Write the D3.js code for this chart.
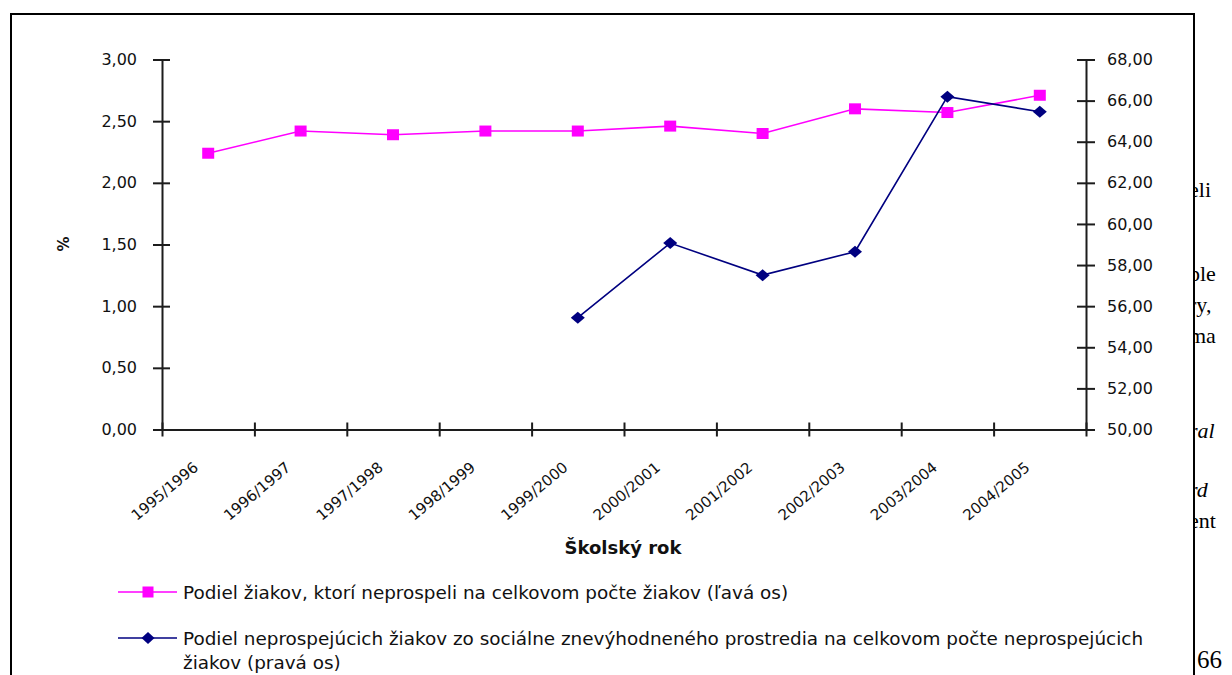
<!DOCTYPE html>
<html>
<head>
<meta charset="utf-8">
<script src="https://cdn.jsdelivr.net/npm/d3@7"></script>
<style>
  html, body { margin: 0; padding: 0; background: #fff; }
  svg { display: block; }
</style>
</head>
<body>
<svg id="chart" width="1232" height="675"></svg>
<script>
// School years on the category axis
const schoolYears = ["1995/1996", "1996/1997", "1997/1998", "1998/1999", "1999/2000",
                     "2000/2001", "2001/2002", "2002/2003", "2003/2004", "2004/2005"];
// Share of failing pupils among all pupils (%), left axis
const failedShare = [2.24, 2.42, 2.39, 2.42, 2.42, 2.46, 2.40, 2.60, 2.57, 2.71];
// Share of socially disadvantaged pupils among failing pupils (%), right axis
const disadvantagedShare = [null, null, null, null, 55.44, 59.07, 57.51, 58.65, 66.19, 65.46];
// Axis ticks
const leftTicks = [0, 0.5, 1, 1.5, 2, 2.5, 3];
const rightTicks = [50, 52, 54, 56, 58, 60, 62, 64, 66, 68];
// Legend entries
const seriesNames = [
  "Podiel žiakov, ktorí neprospeli na celkovom počte žiakov (ľavá os)",
  "Podiel neprospejúcich žiakov zo sociálne znevýhodneného prostredia na celkovom počte neprospejúcich",
  "žiakov (pravá os)"
];
const xTitle = "Školský rok";
const yTitle = "%";
// Fragments of the surrounding page text that peek out beside the chart frame
const pageFragments = [
  { t: "eli", y: 197, it: false }, { t: "ple", y: 281, it: false },
  { t: "ry,", y: 312, it: false }, { t: "ma", y: 343, it: false },
  { t: "ral", y: 438, it: true }, { t: "rd", y: 497, it: true },
  { t: "ent", y: 528, it: false }
];
const pageNumber = "66";

const svg = d3.select("#chart");
const sk = d3.formatLocale({ decimal: ",", thousands: " ", grouping: [3], currency: ["", ""] });
const fmt = sk.format(".2f");

const PINK = "#ff00ff", NAVY = "#000080", AXIS = "#1c1c1c";
const plot = { left: 162, right: 1086, top: 59.5, bottom: 429.5 };

// Page text behind the chart frame
const page = svg.append("g").attr("font-family", "'Liberation Serif', 'Times New Roman', serif")
  .attr("font-size", 22).attr("fill", "#000");
page.selectAll("text").data(pageFragments).join("text")
  .attr("x", 1189).attr("y", d => d.y)
  .attr("font-style", d => d.it ? "italic" : "normal")
  .text(d => d.t);

// Chart area with frame
svg.append("rect").attr("x", 11).attr("y", 14).attr("width", 1183).attr("height", 700)
  .attr("fill", "#fff").attr("stroke", "#000").attr("stroke-width", 2);

// Page number to the right of the frame
svg.append("text").attr("x", 1197).attr("y", 668)
  .attr("font-family", "'Liberation Serif', 'Times New Roman', serif")
  .attr("font-size", 25).attr("fill", "#000").text(pageNumber);

// Scales
const x = d3.scaleBand().domain(schoolYears).range([plot.left, plot.right]);
const xEdge = d3.scaleLinear().domain([0, schoolYears.length]).range([plot.left, plot.right]);
const yL = d3.scaleLinear().domain([0, 3]).range([plot.bottom, plot.top]);
const yR = d3.scaleLinear().domain([50, 68]).range([plot.bottom, plot.top]);
const cx = d => x(d) + x.bandwidth() / 2;

const textFont = "'DejaVu Sans', Verdana, sans-serif";

// Left axis
const gL = svg.append("g").attr("transform", `translate(${plot.left},0)`)
  .call(d3.axisLeft(yL).tickValues(leftTicks).tickFormat(fmt).tickSize(0).tickPadding(25));
gL.select(".domain").attr("stroke", AXIS).attr("stroke-width", 2);
gL.selectAll(".tick line").attr("x1", -9).attr("x2", 8).attr("stroke", AXIS).attr("stroke-width", 2);
gL.selectAll(".tick text").attr("font-family", textFont).attr("font-size", 16).attr("fill", "#111");

// Right axis
const gR = svg.append("g").attr("transform", `translate(${plot.right},0)`)
  .call(d3.axisRight(yR).tickValues(rightTicks).tickFormat(fmt).tickSize(0).tickPadding(21));
gR.select(".domain").attr("stroke", AXIS).attr("stroke-width", 2);
gR.selectAll(".tick line").attr("x1", -9).attr("x2", 9).attr("stroke", AXIS).attr("stroke-width", 2);
gR.selectAll(".tick text").attr("font-family", textFont).attr("font-size", 16).attr("fill", "#111");

// Category axis: ticks between categories
const gX = svg.append("g").attr("transform", `translate(0,${plot.bottom})`)
  .call(d3.axisBottom(xEdge).tickValues(d3.range(schoolYears.length + 1)).tickFormat("").tickSize(0));
gX.select(".domain").attr("stroke", AXIS).attr("stroke-width", 2);
gX.selectAll(".tick line").attr("y1", -7).attr("y2", 7).attr("stroke", AXIS).attr("stroke-width", 2);

// Rotated category labels
svg.append("g").selectAll("text").data(schoolYears).join("text")
  .attr("transform", d => `translate(${cx(d) - 9},469) rotate(-40)`)
  .attr("text-anchor", "end")
  .attr("font-family", textFont).attr("font-size", 15).attr("fill", "#111")
  .text(d => d);

// Axis titles
svg.append("text").attr("x", 623).attr("y", 554).attr("text-anchor", "middle")
  .attr("font-family", textFont).attr("font-weight", "bold").attr("font-size", 18).attr("fill", "#111")
  .text(xTitle);
svg.append("text").attr("transform", "translate(69,244) rotate(-90)").attr("text-anchor", "middle")
  .attr("font-family", textFont).attr("font-weight", "bold").attr("font-size", 15).attr("fill", "#111")
  .text(yTitle);

// Series 1: pink line with square markers
const pinkData = schoolYears.map((s, i) => ({ s, v: failedShare[i] }));
svg.append("path").datum(pinkData)
  .attr("fill", "none").attr("stroke", PINK).attr("stroke-width", 1.6)
  .attr("d", d3.line().x(d => cx(d.s)).y(d => yL(d.v)));
svg.append("g").selectAll("rect").data(pinkData).join("rect")
  .attr("x", d => cx(d.s) - 6).attr("y", d => yL(d.v) - 5.5)
  .attr("width", 12).attr("height", 11).attr("fill", PINK);

// Series 2: navy line with diamond markers
const navyData = schoolYears.map((s, i) => ({ s, v: disadvantagedShare[i] })).filter(d => d.v != null);
svg.append("path").datum(navyData)
  .attr("fill", "none").attr("stroke", NAVY).attr("stroke-width", 1.6)
  .attr("d", d3.line().x(d => cx(d.s)).y(d => yR(d.v)));
const diamond = "M0,-6L7,0L0,6L-7,0Z";
svg.append("g").selectAll("path").data(navyData).join("path")
  .attr("transform", d => `translate(${cx(d.s)},${yR(d.v)})`)
  .attr("d", diamond).attr("fill", NAVY);

// Legend
const leg = svg.append("g");
const legRows = [
  { y: 592, color: PINK, marker: "square" },
  { y: 638, color: NAVY, marker: "diamond" }
];
legRows.forEach(r => {
  leg.append("line").attr("x1", 118).attr("x2", 177).attr("y1", r.y).attr("y2", r.y)
    .attr("stroke", r.color).attr("stroke-width", 1.6);
  if (r.marker === "square") {
    leg.append("rect").attr("x", 142.5).attr("y", r.y - 5.5).attr("width", 11).attr("height", 11).attr("fill", r.color);
  } else {
    leg.append("path").attr("transform", `translate(148,${r.y})`).attr("d", "M0,-6L6.5,0L0,6L-6.5,0Z").attr("fill", r.color);
  }
});
leg.selectAll("text").data(seriesNames).join("text")
  .attr("x", 183).attr("y", (d, i) => [599, 645, 669][i])
  .attr("font-family", textFont).attr("font-size", 18.4).attr("fill", "#111")
  .text(d => d);
</script>
</body>
</html>
